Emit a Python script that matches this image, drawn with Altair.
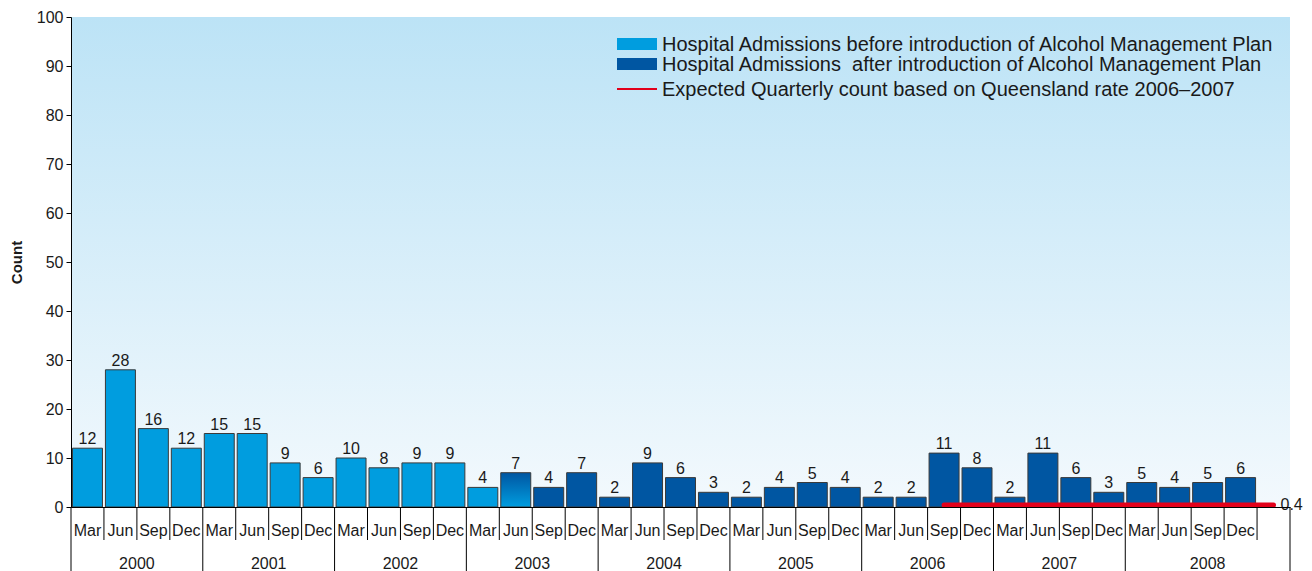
import altair as alt
import pandas as pd

# ---------------- data ----------------
months = ["Mar", "Jun", "Sep", "Dec"]
years = [2000, 2001, 2002, 2003, 2004, 2005, 2006, 2007, 2008]
counts = [12, 28, 16, 12,
          15, 15, 9, 6,
          10, 8, 9, 9,
          4, 7, 4, 7,
          2, 9, 6, 3,
          2, 4, 5, 4,
          2, 2, 11, 8,
          2, 11, 6, 3,
          5, 4, 5, 6]
# phase of each quarter: before / transition / after the Alcohol Management Plan
n_before = 13          # Mar 2000 .. Mar 2003
n_transition = 1       # Jun 2003
expected_value = 0.4   # expected quarterly count (Queensland rate 2006-2007)
expected_start = "Sep 2006"
legend_labels = [
    "Hospital Admissions before introduction of Alcohol Management Plan",
    "Hospital Admissions\u00a0 after introduction of Alcohol Management Plan",
    "Expected Quarterly count based on Queensland rate 2006\u20132007",
]

# ---------------- tables ----------------
rows = []
for i, v in enumerate(counts):
    y = years[i // 4]
    m = months[i % 4]
    if i < n_before:
        ph = "before"
    elif i < n_before + n_transition:
        ph = "transition"
    else:
        ph = "after"
    rows.append({"idx": i, "month": m, "year": y, "label": f"{m} {y}",
                 "count": v, "phase": ph})
bars = pd.DataFrame(rows)
n_slots = len(counts) + 1  # an extra empty slot at the end (holds the 0.4 label)

start_idx = int(bars.loc[bars["label"] == expected_start, "idx"].iloc[0])
expected = pd.DataFrame({"slot": [start_idx, n_slots - 1],
                         "value": [expected_value, expected_value]})

year_rows = []
for k, y in enumerate(years):
    s = 4 * k
    e = 4 * k + 4 if k < len(years) - 1 else n_slots
    year_rows.append({"year": str(y), "start": s, "end": e})
year_df = pd.DataFrame(year_rows)
year_bounds = pd.DataFrame({"pos": sorted(set(year_df["start"]).union(set(year_df["end"])))})
month_bounds = pd.DataFrame({"pos": [p for p in range(1, n_slots) if p not in set(year_bounds["pos"])]})

W, H = 1219, 490
FONT = "Liberation Sans"
LIGHT = "#009ddf"
DARK = "#0056a2"
RED = "#e2001a"
TXT = "#1a1a1a"

xs = alt.Scale(domain=[0, n_slots], nice=False, zero=False)
ys = alt.Scale(domain=[0, 100], nice=False)

x_axis = alt.Axis(labels=False, ticks=False, title=None, grid=False,
                  domainColor="black", domainWidth=1, zindex=1)

bg = alt.Chart(pd.DataFrame({"a": [0]})).mark_rect(
    color=alt.Gradient(gradient="linear",
                       stops=[alt.GradientStop(color="#bce3f6", offset=0),
                              alt.GradientStop(color="#f3f9fd", offset=1)],
                       x1=0, x2=0, y1=0, y2=1)
).encode(x=alt.value(0), x2=alt.value(W), y=alt.value(0), y2=alt.value(H))

base = alt.Chart(bars).transform_calculate(
    x0="datum.idx + 0.045", x1="datum.idx + 0.955", xc="datum.idx + 0.5"
)

bar_solid = base.transform_filter("datum.phase != 'transition'").mark_bar(
    stroke="#3a3a3a", strokeWidth=1
).encode(
    x=alt.X("x0:Q", scale=xs, axis=x_axis),
    x2="x1:Q",
    y=alt.Y("count:Q", scale=ys,
            axis=alt.Axis(values=list(range(0, 101, 10)), grid=False,
                          tickSize=5, tickColor="black", domainColor="black",
                          labelFont=FONT, labelFontSize=16, labelColor=TXT,
                          labelPadding=3, title="Count", titleFont=FONT,
                          titleFontSize=15, titleFontWeight="bold",
                          titleColor=TXT, titleX=-55, titleY=H / 2,
                          titleAlign="center", titleBaseline="middle",
                          zindex=1)),
    y2=alt.datum(0),
    color=alt.Color("phase:N", scale=alt.Scale(domain=["before", "after"],
                                               range=[LIGHT, DARK]),
                    legend=None),
)

bar_trans = base.transform_filter("datum.phase == 'transition'").mark_bar(
    stroke="#3a3a3a", strokeWidth=1,
    color=alt.Gradient(gradient="linear",
                       stops=[alt.GradientStop(color=DARK, offset=0),
                              alt.GradientStop(color=LIGHT, offset=1)],
                       x1=0, x2=0, y1=0, y2=1)
).encode(x=alt.X("x0:Q", scale=xs), x2="x1:Q",
         y=alt.Y("count:Q", scale=ys), y2=alt.datum(0))

value_text = base.mark_text(font=FONT, fontSize=16, color=TXT,
                            baseline="bottom", dy=-1).encode(
    x=alt.X("xc:Q", scale=xs), y=alt.Y("count:Q", scale=ys),
    text="count:Q")

exp_line = alt.Chart(expected).transform_calculate(xc="datum.slot + 0.5").mark_line(
    color=RED, strokeWidth=5, strokeCap="round"
).encode(x=alt.X("xc:Q", scale=xs), y=alt.Y("value:Q", scale=ys))

exp_text = alt.Chart(expected).transform_filter(
    f"datum.slot == {n_slots - 1}").transform_calculate(xc="datum.slot + 0.5").mark_text(
    font=FONT, fontSize=16, color=TXT, align="left", baseline="middle", dx=7
).encode(x=alt.X("xc:Q", scale=xs), y=alt.Y("value:Q", scale=ys),
         text=alt.Text("value:Q", format=".1f"))

month_text = base.mark_text(font=FONT, fontSize=16, color=TXT,
                            baseline="middle").encode(
    x=alt.X("xc:Q", scale=xs), y=alt.value(H + 24), text="month:N")

month_sep = alt.Chart(month_bounds).mark_rule(color="black", strokeWidth=1).encode(
    x=alt.X("pos:Q", scale=xs), y=alt.value(H), y2=alt.value(H + 33))

year_sep = alt.Chart(year_bounds).mark_rule(color="black", strokeWidth=1).encode(
    x=alt.X("pos:Q", scale=xs), y=alt.value(H), y2=alt.value(H + 70))

year_text = alt.Chart(year_df).transform_calculate(
    xc="(datum.start + datum.end) / 2").mark_text(
    font=FONT, fontSize=16, color=TXT, baseline="middle").encode(
    x=alt.X("xc:Q", scale=xs), y=alt.value(H + 57), text="year:N")

# legend (drawn inside the plot, top right)
LX = 546
leg1 = alt.Chart(pd.DataFrame({"t": [legend_labels[0]]})).mark_rect(color=LIGHT).encode(
    x=alt.value(LX), x2=alt.value(LX + 40), y=alt.value(21), y2=alt.value(33))
leg2 = alt.Chart(pd.DataFrame({"t": [legend_labels[1]]})).mark_rect(color=DARK).encode(
    x=alt.value(LX), x2=alt.value(LX + 40), y=alt.value(41), y2=alt.value(53))
leg3 = alt.Chart(pd.DataFrame({"t": [legend_labels[2]]})).mark_rule(color=RED, strokeWidth=2).encode(
    x=alt.value(LX), x2=alt.value(LX + 40), y=alt.value(72))
leg_text = alt.Chart(pd.DataFrame({"t": legend_labels, "k": [0, 1, 2]})).transform_calculate(
    yy="datum.k == 2 ? 73 : 28 + 20 * datum.k").mark_text(
    font=FONT, fontSize=20, color=TXT, align="left", baseline="middle").encode(
    x=alt.value(LX + 45), y=alt.Y("yy:Q", scale=None), text="t:N")

chart = alt.layer(
    bg, bar_solid, bar_trans, value_text, exp_line, exp_text,
    month_sep, year_sep, month_text, year_text,
    leg1, leg2, leg3, leg_text
).properties(
    width=W, height=H,
    autosize=alt.AutoSizeParams(type="none"),
    padding={"left": 63, "top": 9, "right": 14, "bottom": 64},
    background="white",
).configure_view(stroke=None)

chart.save("out.html", embed_options={"renderer": "svg", "actions": False})
